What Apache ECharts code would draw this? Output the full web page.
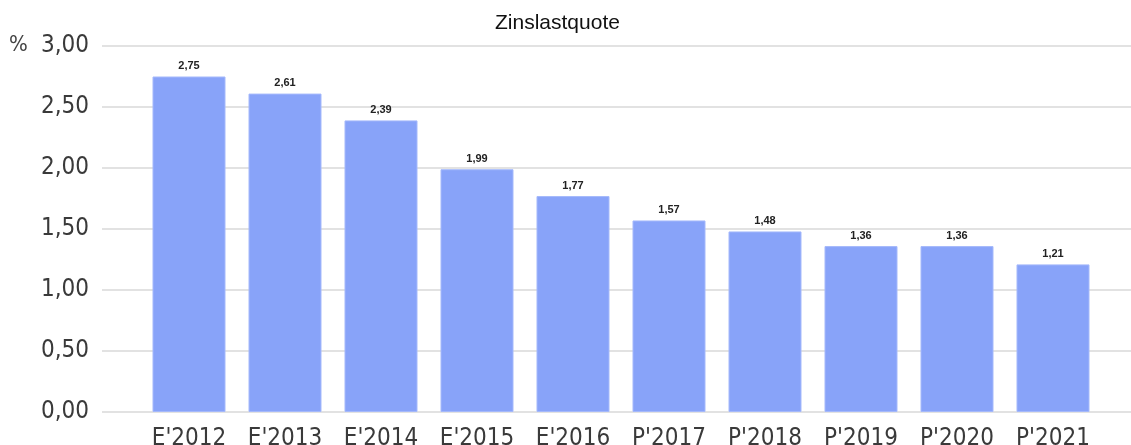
<!DOCTYPE html>
<html>
<head>
<meta charset="utf-8">
<script src="https://cdn.jsdelivr.net/npm/echarts@6/dist/echarts.min.js"></script>
<style>
  html, body { margin: 0; padding: 0; background: #fff; }
  #chart { width: 1131px; height: 445px; }
</style>
</head>
<body>
<div id="chart"></div>
<script>
  // Daten
  const categories = ["E'2012", "E'2013", "E'2014", "E'2015", "E'2016", "P'2017", "P'2018", "P'2019", "P'2020", "P'2021"];
  const zinslast = [2.75, 2.61, 2.39, 1.99, 1.77, 1.57, 1.48, 1.36, 1.36, 1.21];
  const yMin = 0, yMax = 3, yStep = 0.5;

  const fmt = v => Number(v).toFixed(2).replace('.', ',');
  const axisFont = '"DejaVu Sans Condensed", "DejaVu Sans", sans-serif';

  let myChart = echarts.init(document.getElementById('chart'));
  myChart.setOption({
    animation: false,
    title: {
      text: 'Zinslastquote',
      left: 490,
      top: 8,
      textStyle: { fontFamily: '"Liberation Sans", Arial, sans-serif', fontSize: 21, fontWeight: 'normal', color: '#111' }
    },
    graphic: [{
      type: 'text', left: 9, top: 34,
      style: { text: '%', font: '22px "DejaVu Sans Condensed", "DejaVu Sans", sans-serif', fill: '#444' }
    }],
    grid: [
      // Gitter mit Skala (breiter als die Balken)
      { left: 102, right: 0, top: 46, bottom: 33, containLabel: false, outerBoundsMode: 'none' },
      // Balken
      { left: 141, right: 30, top: 46, bottom: 33, containLabel: false, outerBoundsMode: 'none' }
    ],
    xAxis: [
      { gridIndex: 0, type: 'value', show: false },
      {
        gridIndex: 1,
        type: 'category',
        data: categories,
        axisLine: { show: false },
        axisTick: { show: false },
        axisLabel: { interval: 0, margin: 15, fontFamily: axisFont, fontSize: 24, color: '#3a3a3a' }
      }
    ],
    yAxis: [
      {
        gridIndex: 0,
        type: 'value',
        min: yMin, max: yMax, interval: yStep,
        axisLine: { show: false },
        axisTick: { show: false },
        axisLabel: { margin: 13, fontFamily: axisFont, fontSize: 24, color: '#3a3a3a', formatter: fmt },
        splitLine: { lineStyle: { color: '#d9d9d9', width: 1.5 } }
      },
      { gridIndex: 1, type: 'value', min: yMin, max: yMax, interval: yStep, show: false, splitLine: { show: false } }
    ],
    series: [{
      name: 'Zinslastquote',
      type: 'bar',
      xAxisIndex: 1,
      yAxisIndex: 1,
      data: zinslast,
      barWidth: 73,
      itemStyle: { color: '#88a3f9', borderColor: '#a5b9fb', borderWidth: 1 },
      label: {
        show: true,
        position: 'top',
        distance: 5,
        fontFamily: '"Liberation Sans", Arial, sans-serif',
        fontSize: 11,
        fontWeight: 'bold',
        color: '#222',
        formatter: p => fmt(p.value)
      }
    }]
  });
</script>
</body>
</html>
